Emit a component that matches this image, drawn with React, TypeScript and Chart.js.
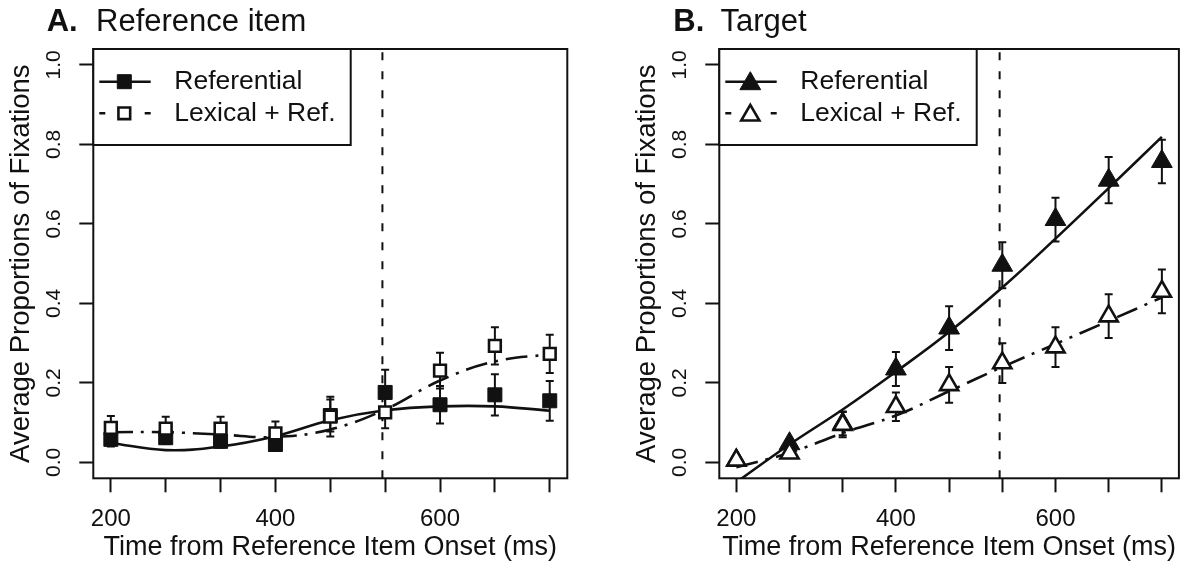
import React, { useEffect, useRef } from "react";
import { Chart, registerables } from "chart.js";

Chart.register(...registerables);

const FONT = "'Liberation Sans', Arial, Helvetica, sans-serif";
const INK = "#111111";

// Time bins (ms from reference item onset)
const timePoints = [200, 266.67, 333.33, 400, 466.67, 533.33, 600, 666.67, 733.33];
const xTickLabels = ["200", "", "", "400", "", "", "600", "", ""];
const yTickValues = [0, 0.2, 0.4, 0.6, 0.8, 1.0];
const onsetMs = 530;
const seriesNames = ["Referential", "Lexical + Ref."];

// Panel A: Reference item
const refA = [0.058, 0.062, 0.053, 0.045, 0.118, 0.176, 0.145, 0.17, 0.155];
const refAErr = [0.018, 0.016, 0.016, 0.014, 0.04, 0.057, 0.047, 0.052, 0.05];
const lexA = [0.087, 0.085, 0.085, 0.073, 0.115, 0.126, 0.231, 0.293, 0.273];
const lexAErr = [0.03, 0.03, 0.03, 0.03, 0.05, 0.04, 0.045, 0.047, 0.048];
const fitRefA = [0.049, 0.031, 0.04, 0.066, 0.106, 0.131, 0.141, 0.141, 0.13];
const fitLexA = [0.076, 0.076, 0.07, 0.064, 0.083, 0.133, 0.206, 0.254, 0.272];

// Panel B: Target
const refB = [0.005, 0.047, 0.098, 0.235, 0.338, 0.496, 0.611, 0.71, 0.757];
const refBErr = [0, 0.012, 0.03, 0.043, 0.055, 0.058, 0.055, 0.058, 0.055];
const lexB = [0.005, 0.023, 0.095, 0.14, 0.195, 0.25, 0.29, 0.368, 0.43];
const lexBErr = [0, 0.01, 0.032, 0.036, 0.045, 0.05, 0.05, 0.055, 0.055];
const fitRefB = [-0.05, 0.045, 0.133, 0.228, 0.328, 0.44, 0.563, 0.69, 0.819];
const fitLexB = [-0.012, 0.024, 0.074, 0.118, 0.179, 0.24, 0.298, 0.356, 0.415];

type Spec = {
  letter: string;
  title: string;
  padLeft: number;
  padRight: number;
  letterX: number;
  titleX: number;
  marker: "rect" | "triangle";
  refRadius: number;
  lexRadius: number;
  ref: number[];
  refErr: number[];
  lex: number[];
  lexErr: number[];
  fitRef: number[];
  fitLex: number[];
};

const panelA: Spec = {
  letter: "A.",
  title: "Reference item",
  padLeft: 0,
  padRight: 28.7,
  letterX: 46.7,
  titleX: 96,
  marker: "rect",
  refRadius: 9.9,
  lexRadius: 8.3,
  ref: refA,
  refErr: refAErr,
  lex: lexA,
  lexErr: lexAErr,
  fitRef: fitRefA,
  fitLex: fitLexA,
};

const panelB: Spec = {
  letter: "B.",
  title: "Target",
  padLeft: 30,
  padRight: 0.5,
  letterX: 77.3,
  titleX: 124.5,
  marker: "triangle",
  refRadius: 12,
  lexRadius: 10.5,
  ref: refB,
  refErr: refBErr,
  lex: lexB,
  lexErr: lexBErr,
  fitRef: fitRefB,
  fitLex: fitLexB,
};

const toXY = (vals: number[]) => vals.map((v, i) => ({ x: timePoints[i], y: v }));

function drawMarker(
  ctx: CanvasRenderingContext2D,
  style: "rect" | "triangle",
  x: number,
  y: number,
  r: number,
  filled: boolean
) {
  ctx.beginPath();
  if (style === "rect") {
    const s = Math.SQRT1_2 * r;
    ctx.rect(x - s, y - s, 2 * s, 2 * s);
  } else {
    let rad = 0;
    ctx.moveTo(x + Math.sin(rad) * r, y - Math.cos(rad) * r);
    rad += (2 * Math.PI) / 3;
    ctx.lineTo(x + Math.sin(rad) * r, y - Math.cos(rad) * r);
    rad += (2 * Math.PI) / 3;
    ctx.lineTo(x + Math.sin(rad) * r, y - Math.cos(rad) * r);
    ctx.closePath();
  }
  if (filled) {
    ctx.fillStyle = INK;
    ctx.fill();
    ctx.lineWidth = 1;
    ctx.strokeStyle = INK;
    ctx.stroke();
  } else {
    ctx.fillStyle = "#ffffff";
    ctx.fill();
    ctx.lineWidth = 2.6;
    ctx.strokeStyle = INK;
    ctx.stroke();
  }
}

function makeDecor(spec: Spec) {
  return {
    id: "decor",
    beforeDatasetsDraw(chart: any) {
      const { ctx, chartArea: a, scales } = chart;
      const xs = scales.x;
      const ys = scales.y;
      ctx.save();
      // onset dashed line
      const px = xs.getPixelForValue(onsetMs);
      ctx.beginPath();
      ctx.setLineDash([8, 11]);
      ctx.lineWidth = 2;
      ctx.strokeStyle = INK;
      ctx.moveTo(px, a.bottom);
      ctx.lineTo(px, a.top);
      ctx.stroke();
      ctx.setLineDash([]);
      // error bars
      const bars = (vals: number[], errs: number[]) => {
        vals.forEach((v, i) => {
          const e = errs[i];
          if (!e) return;
          const bx = xs.getPixelForValue(timePoints[i]);
          const y1 = ys.getPixelForValue(v - e);
          const y2 = ys.getPixelForValue(v + e);
          ctx.beginPath();
          ctx.lineWidth = 2;
          ctx.strokeStyle = INK;
          ctx.moveTo(bx, y1);
          ctx.lineTo(bx, y2);
          ctx.moveTo(bx - 4, y1);
          ctx.lineTo(bx + 4, y1);
          ctx.moveTo(bx - 4, y2);
          ctx.lineTo(bx + 4, y2);
          ctx.stroke();
        });
      };
      bars(spec.ref, spec.refErr);
      bars(spec.lex, spec.lexErr);
      ctx.restore();
    },
    afterDraw(chart: any) {
      const { ctx, chartArea: a } = chart;
      ctx.save();
      // plot box
      ctx.lineWidth = 2;
      ctx.strokeStyle = INK;
      ctx.strokeRect(a.left, a.top, a.right - a.left, a.bottom - a.top);

      // legend
      const lw = 257.4;
      const lh = 96;
      ctx.fillStyle = "#ffffff";
      ctx.fillRect(a.left, a.top, lw, lh);
      ctx.strokeRect(a.left, a.top, lw, lh);
      const rows = [a.top + 32.7, a.top + 64.3];
      const sx0 = a.left + 6;
      const sx1 = a.left + 57.4;
      const mx = a.left + 31;
      // row 1 solid
      ctx.beginPath();
      ctx.lineWidth = 2.6;
      ctx.moveTo(sx0, rows[0]);
      ctx.lineTo(sx1, rows[0]);
      ctx.stroke();
      drawMarker(ctx, spec.marker, mx, rows[0] + (spec.marker === "triangle" ? 2 : 0), spec.refRadius, true);
      // row 2 dashed
      ctx.beginPath();
      ctx.lineWidth = 2.6;
      ctx.moveTo(sx0, rows[1]);
      ctx.lineTo(sx0 + 6, rows[1]);
      ctx.moveTo(sx1 - 6, rows[1]);
      ctx.lineTo(sx1, rows[1]);
      ctx.stroke();
      drawMarker(ctx, spec.marker, mx, rows[1] + (spec.marker === "triangle" ? 2 : 0), spec.lexRadius, false);
      ctx.fillStyle = INK;
      ctx.font = `26.5px ${FONT}`;
      ctx.textAlign = "left";
      ctx.textBaseline = "middle";
      ctx.fillText(seriesNames[0], a.left + 81, rows[0]);
      ctx.fillText(seriesNames[1], a.left + 81, rows[1]);

      // panel title
      ctx.textBaseline = "alphabetic";
      ctx.font = `bold 31px ${FONT}`;
      ctx.fillText(spec.letter, spec.letterX, 31);
      ctx.font = `31px ${FONT}`;
      ctx.fillText(spec.title, spec.titleX, 31);
      ctx.restore();
    },
  };
}

function buildConfig(spec: Spec): any {
  return {
    type: "line",
    data: {
      datasets: [
        {
          label: "fit-ref",
          data: toXY(spec.fitRef),
          borderColor: INK,
          borderWidth: 2.6,
          pointRadius: 0,
          tension: 0.4,
          fill: false,
          order: 4,
          clip: 0,
        },
        {
          label: "fit-lex",
          data: toXY(spec.fitLex),
          borderColor: INK,
          borderWidth: 2.6,
          borderDash: [22, 8, 3, 8],
          pointRadius: 0,
          tension: 0.4,
          fill: false,
          order: 3,
          clip: 0,
        },
        {
          label: seriesNames[0],
          data: toXY(spec.ref),
          showLine: false,
          pointStyle: spec.marker,
          pointRadius: spec.refRadius,
          backgroundColor: INK,
          borderColor: INK,
          borderWidth: 1,
          order: 2,
          clip: false,
        },
        {
          label: seriesNames[1],
          data: toXY(spec.lex),
          showLine: false,
          pointStyle: spec.marker,
          pointRadius: spec.lexRadius,
          backgroundColor: "#ffffff",
          borderColor: INK,
          borderWidth: 2.6,
          order: 1,
          clip: false,
        },
      ],
    },
    options: {
      responsive: false,
      animation: false,
      devicePixelRatio: 1,
      events: [],
      layout: { padding: { left: spec.padLeft, right: spec.padRight, top: 49, bottom: 0 } },
      plugins: {
        legend: { display: false },
        tooltip: { enabled: false },
        title: { display: false },
      },
      scales: {
        x: {
          type: "linear",
          min: 178.67,
          max: 754.67,
          afterBuildTicks: (scale: any) => {
            scale.ticks = timePoints.map((v) => ({ value: v }));
          },
          afterFit: (scale: any) => {
            scale.height = 85.7;
          },
          ticks: {
            autoSkip: false,
            maxRotation: 0,
            minRotation: 0,
            padding: 12.5,
            color: INK,
            font: { family: FONT, size: 24 },
            callback: (_v: any, i: number) => xTickLabels[i],
          },
          grid: {
            display: true,
            drawOnChartArea: false,
            drawTicks: true,
            tickLength: 14,
            tickWidth: 2,
            tickColor: INK,
            color: INK,
          },
          border: { display: false },
          title: {
            display: true,
            text: "Time from Reference Item Onset (ms)",
            color: INK,
            font: { family: FONT, size: 27, lineHeight: 1.2 },
            padding: { top: 0, bottom: 0 },
          },
        },
        y: {
          type: "linear",
          min: -0.04,
          max: 1.04,
          afterBuildTicks: (scale: any) => {
            scale.ticks = yTickValues.map((v) => ({ value: v }));
          },
          afterFit: (scale: any) => {
            scale.width = 93.3;
          },
          ticks: {
            autoSkip: false,
            minRotation: 90,
            maxRotation: 90,
            crossAlign: "center",
            padding: 10.7,
            color: INK,
            font: { family: FONT, size: 21 },
            callback: (v: any) => Number(v).toFixed(1),
          },
          grid: {
            display: true,
            drawOnChartArea: false,
            drawTicks: true,
            tickLength: 14,
            tickWidth: 2,
            tickColor: INK,
            color: INK,
          },
          border: { display: false },
          title: {
            display: true,
            text: "Average Proportions of Fixations",
            color: INK,
            font: { family: FONT, size: 27.5, lineHeight: 1.2 },
            padding: { top: 5, bottom: 0 },
          },
        },
      },
    },
    plugins: [makeDecor(spec)],
  };
}

function Panel({ spec, left }: { spec: Spec; left: number }) {
  const ref = useRef<HTMLCanvasElement | null>(null);
  useEffect(() => {
    if (!ref.current) return;
    const chart = new Chart(ref.current, buildConfig(spec));
    return () => chart.destroy();
  }, [spec]);
  return (
    <canvas
      ref={ref}
      width={596}
      height={564}
      style={{ position: "absolute", left, top: 0, width: 596, height: 564 }}
    />
  );
}

export default function App() {
  useEffect(() => {
    document.body.style.margin = "0";
  }, []);
  return (
    <div
      style={{
        position: "fixed",
        left: 0,
        top: 0,
        width: 1192,
        height: 564,
        background: "#ffffff",
        overflow: "hidden",
      }}
    >
      <Panel spec={panelA} left={0} />
      <Panel spec={panelB} left={596} />
    </div>
  );
}
